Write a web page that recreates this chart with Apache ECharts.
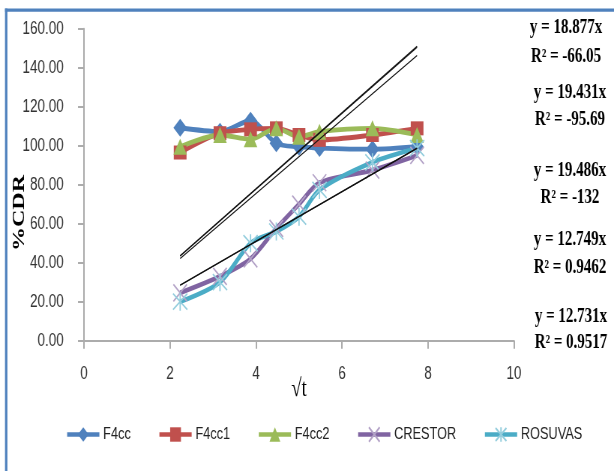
<!DOCTYPE html>
<html><head><meta charset="utf-8">
<script src="https://cdn.jsdelivr.net/npm/echarts@6/dist/echarts.min.js"></script>
<style>
html,body{margin:0;padding:0;overflow:hidden;background:#fff;width:614px;height:471px}
#c{width:819px;height:471px;transform:scaleX(0.74969);transform-origin:0 0;}
</style>
</head><body><div id="c"></div>
<script>
// ---- data ----
const rootT   = [2.236, 3.162, 3.873, 4.472, 5.0, 5.477, 6.708, 7.746];
const F4cc    = [109.2, 107.2, 112.8, 101.2, 99.5, 98.8, 98.2, 99.5];
const F4cc1   = [96.5, 106.4, 108.4, 108.9, 105.5, 103.0, 105.5, 108.9];
const F4cc2   = [99.5, 105.5, 103.3, 108.9, 104.6, 107.2, 108.9, 105.5];
const CRESTOR = [24.5, 33.0, 42.0, 57.6, 70.0, 81.0, 87.5, 95.0];
const ROSUVAS = [20.0, 30.0, 50.0, 56.0, 63.6, 77.3, 91.5, 98.7];
const seriesNames = ['F4cc', 'F4cc1', 'F4cc2', 'CRESTOR', 'ROSUVAS'];
const seriesValues = [F4cc, F4cc1, F4cc2, CRESTOR, ROSUVAS];
const slopes = [18.877, 19.431, 19.486, 12.749, 12.731];
const r2Labels = ['-66.05', '-95.69', '-132', '0.9462', '0.9517'];
const xMin = 0, xMax = 10, xStep = 2;
const yMin = 0, yMax = 160, yStep = 20;
const xTitle = '\u221At';
const yTitle = '%CDR';

// ---- styling ----
const S = 614 / 819;               // horizontal squeeze of the page
const X = v => v / S;              // reference px -> chart px (horizontal)
const colors = ['#4F81BD', '#C0504D', '#9BBB59', '#8064A2', '#4BACC6'];
const markerStroke = [null, null, null, '#B3A2C7', '#93CDDD'];
const xPath = 'path://M0,0L16,16M16,0L0,16';
const starPath = 'path://M0,0L16,16M16,0L0,16M8,-1L8,17';
const symbols = ['diamond', 'rect', 'triangle', xPath, starPath];
const symbolSizes = [[18, 18], [17, 14], [18, 16], [18, 17], [19, 18]];

const series = seriesValues.map((vals, i) => ({
  name: seriesNames[i],
  type: 'line',
  smooth: 0.3,
  data: rootT.map((x, j) => [x, vals[j]]),
  symbol: symbols[i],
  symbolSize: symbolSizes[i],
  showAllSymbol: true,
  lineStyle: { color: colors[i], width: 4.8 },
  itemStyle: markerStroke[i]
    ? { color: colors[i], borderColor: markerStroke[i], borderWidth: 1.7 }
    : { color: colors[i], borderWidth: 0 },
  z: 2
}));

slopes.forEach((m, i) => {
  const x0 = rootT[0], x1 = rootT[rootT.length - 1];
  series.push({
    name: 'trend' + i,
    type: 'line',
    data: [[x0, m * x0], [x1, m * x1]],
    symbol: 'none',
    silent: true,
    lineStyle: { color: '#111', width: 1.2 },
    z: 4
  });
});

const eqX = [566, 570, 570, 570, 571];
const eqY = [[27.5, 56.5], [93, 120], [170.5, 197.5], [240, 268], [317, 342.5]];
const graphics = [
  { type: 'rect', shape: { x: X(5), y: 8.5, width: X(2.4), height: 480 }, style: { fill: '#4F81BD' }, z: 10 },
  { type: 'rect', shape: { x: X(5), y: 8.5, width: 900, height: 3.2 }, style: { fill: '#4F81BD' }, z: 10 },
  { type: 'text', x: X(19), y: 213, rotation: Math.PI / 2, z: 10,
    style: { text: yTitle, font: 'bold 24px "Liberation Serif", "Times New Roman", serif', fill: '#000',
      align: 'center', verticalAlign: 'middle', textAlign: 'center', textVerticalAlign: 'middle' } }
];
slopes.forEach((m, i) => {
  const lines = ['y = ' + m.toFixed(3) + 'x', 'R\u00B2 = ' + r2Labels[i]];
  lines.forEach((t, k) => {
    graphics.push({
      type: 'text', x: X(eqX[i]), y: eqY[i][k], z: 10,
      style: {
        text: t, font: 'bold 20px "Liberation Serif", "Times New Roman", serif', fill: '#000',
        align: 'center', verticalAlign: 'middle', textAlign: 'center', textVerticalAlign: 'middle'
      }
    });
  });
});

const chart = echarts.init(document.getElementById('c'));
chart.setOption({
  animation: false,
  backgroundColor: '#fff',
  grid: { left: X(84), right: 819 - X(514), top: 28.7, bottom: 471 - 340.7, containLabel: false },
  xAxis: {
    type: 'value', min: xMin, max: xMax, interval: xStep,
    name: xTitle, nameLocation: 'middle', nameGap: 36, nameMoveOverlap: false,
    nameTextStyle: { fontFamily: '"Liberation Serif", serif', fontSize: 25, color: '#000' },
    axisLine: { show: true, onZero: false, lineStyle: { color: '#ACACAC', width: 2 } },
    axisTick: { show: true, length: 8, lineStyle: { color: '#ACACAC', width: 2 } },
    axisLabel: { margin: 24, fontFamily: '"Liberation Sans", Arial, sans-serif', fontSize: 18, color: '#333' },
    splitLine: { show: false }
  },
  yAxis: {
    type: 'value', min: yMin, max: yMax, interval: yStep,
    axisLine: { show: true, lineStyle: { color: '#ACACAC', width: 2 } },
    axisTick: { show: true, length: 8, lineStyle: { color: '#ACACAC', width: 2 } },
    axisLabel: { margin: 27, formatter: v => v.toFixed(2), fontFamily: '"Liberation Sans", Arial, sans-serif', fontSize: 18, color: '#333' },
    splitLine: { show: false }
  },
  legend: {
    data: seriesNames, left: X(61.7), top: 421, itemWidth: 43, itemHeight: 18, itemGap: 36,
    lineStyle: { width: 4.5 },
    textStyle: { fontFamily: '"Liberation Sans", Arial, sans-serif', fontSize: 17, color: '#222' }
  },
  graphic: graphics,
  series: series
});
</script>
</body></html>
